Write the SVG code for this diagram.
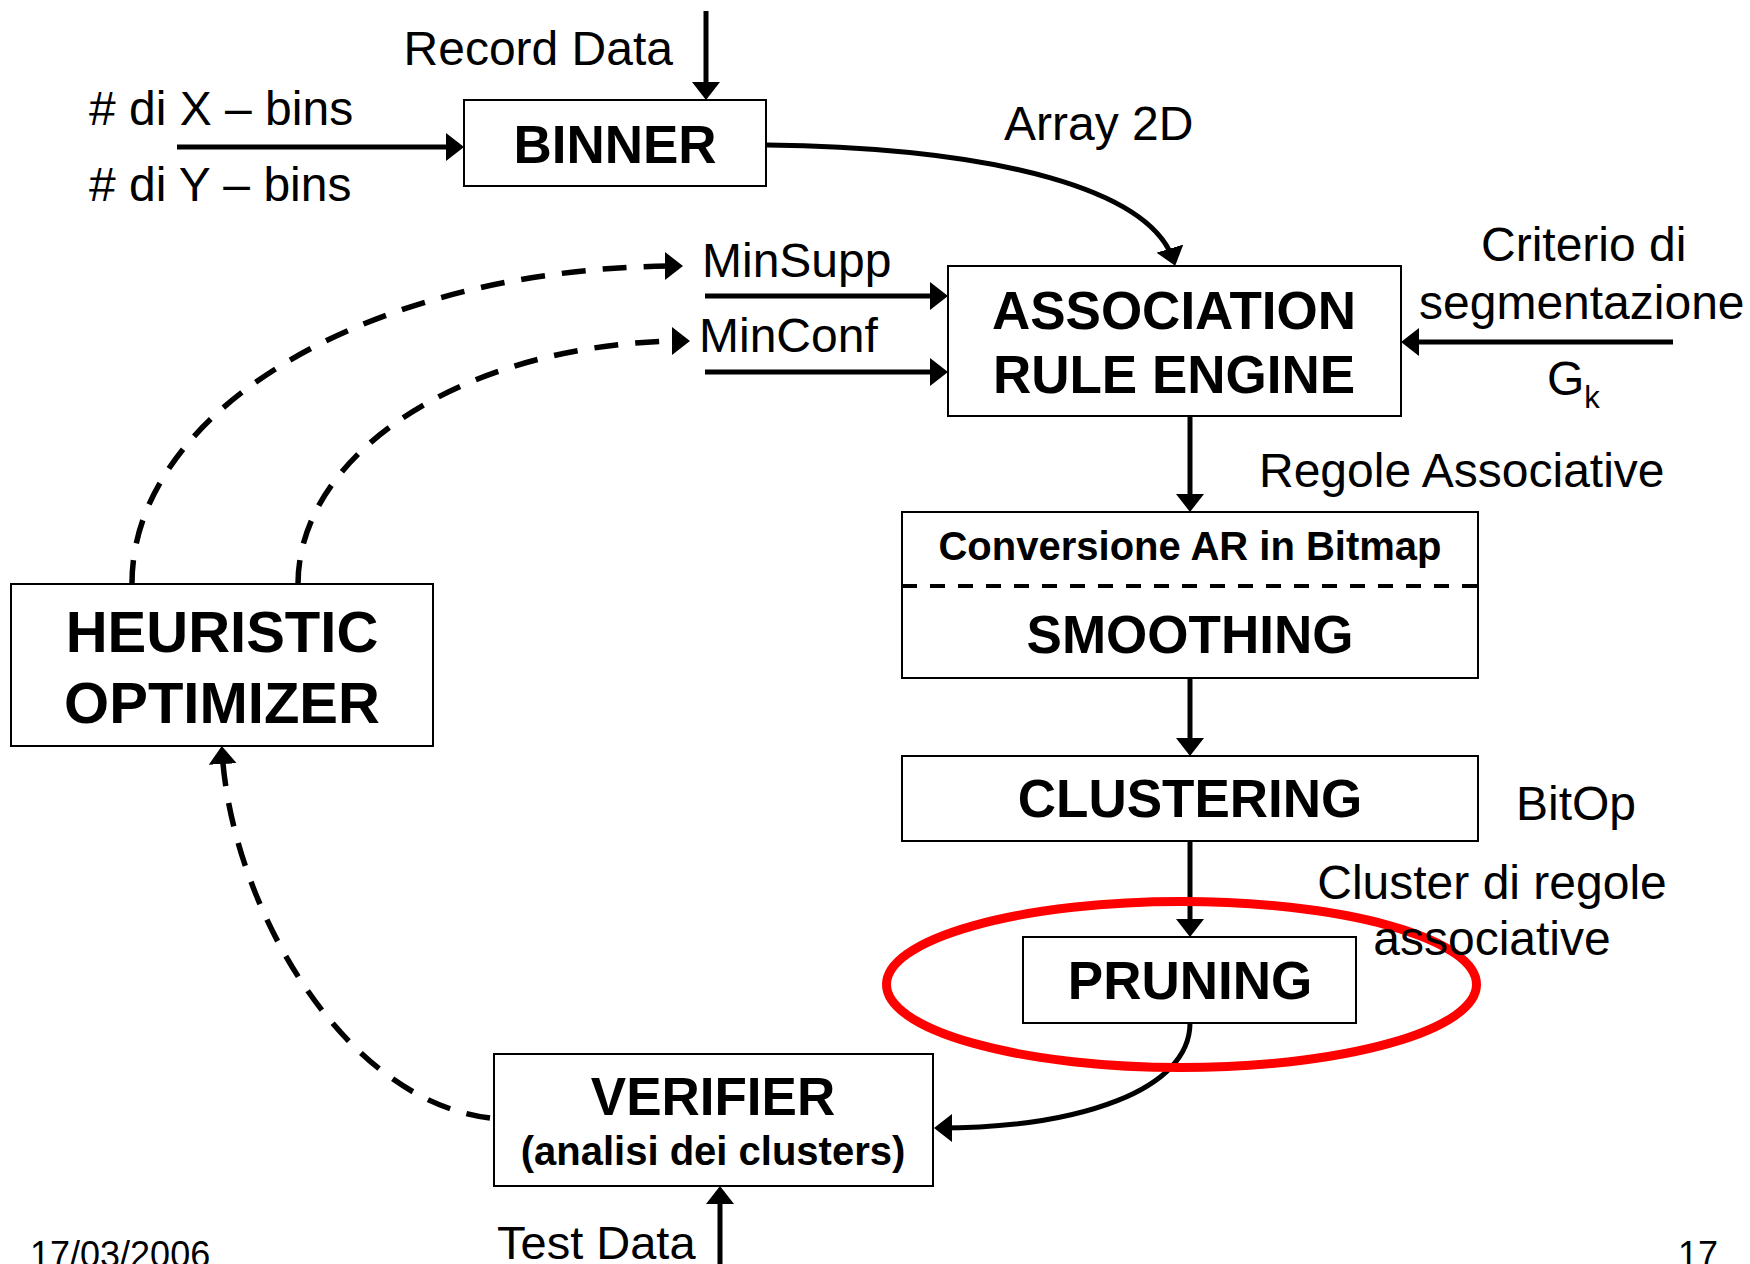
<svg xmlns="http://www.w3.org/2000/svg" width="1750" height="1264" viewBox="0 0 1750 1264">
  <defs>
    <style>
      .box { fill: #ffffff; stroke: #000000; stroke-width: 2; }
      .sep { stroke: #000000; stroke-width: 4; stroke-dasharray: 15 13; fill: none; }
      .wire { fill: none; stroke: #000000; stroke-width: 5; marker-end: url(#head); }
      .dash { fill: none; stroke: #000000; stroke-width: 5.5; stroke-dasharray: 24 17; marker-end: url(#head); }
      .lbl { font-family: "Liberation Sans", Arial, sans-serif; font-size: 48px; fill: #000000; }
      .title { font-family: "Liberation Sans", Arial, sans-serif; font-weight: bold; font-size: 53px; fill: #000000; text-anchor: middle; }
      .sub { font-family: "Liberation Sans", Arial, sans-serif; font-weight: bold; font-size: 40px; fill: #000000; text-anchor: middle; }
      .foot { font-family: "Liberation Sans", Arial, sans-serif; font-size: 36px; fill: #000000; }
    </style>
    <marker id="head" markerUnits="userSpaceOnUse" markerWidth="18" markerHeight="28" refX="14" refY="14" orient="auto">
      <path d="M0,0 L18,14 L0,28 Z" fill="#000000"/>
    </marker>
  </defs>

  <rect width="1750" height="1264" fill="#ffffff"/>

  <!-- processing blocks -->
  <g id="binner">
    <rect class="box" x="464" y="100" width="302" height="86"/>
    <text class="title" x="615" y="163">BINNER</text>
  </g>
  <g id="association-rule-engine">
    <rect class="box" x="948" y="266" width="453" height="150"/>
    <text class="title" x="1174" y="329">ASSOCIATION</text>
    <text class="title" x="1174" y="393">RULE ENGINE</text>
  </g>
  <g id="smoothing">
    <rect class="box" x="902" y="512" width="576" height="166"/>
    <line class="sep" x1="902" y1="586" x2="1478" y2="586"/>
    <text class="sub" x="1190" y="560">Conversione AR in Bitmap</text>
    <text class="title" x="1190" y="653">SMOOTHING</text>
  </g>
  <g id="clustering">
    <rect class="box" x="902" y="756" width="576" height="85"/>
    <text class="title" x="1190" y="817">CLUSTERING</text>
  </g>
  <g id="pruning">
    <rect class="box" x="1023" y="937" width="333" height="86"/>
    <text class="title" x="1190" y="999">PRUNING</text>
  </g>
  <g id="heuristic-optimizer">
    <rect class="box" x="11" y="584" width="422" height="162"/>
    <text class="title" x="222" y="652" style="font-size:58px">HEURISTIC</text>
    <text class="title" x="222" y="723" style="font-size:58px">OPTIMIZER</text>
  </g>
  <g id="verifier">
    <rect class="box" x="494" y="1054" width="439" height="132"/>
    <text class="title" x="713" y="1115">VERIFIER</text>
    <text class="sub" x="713" y="1165">(analisi dei clusters)</text>
  </g>

  <!-- connectors -->
  <g id="connectors">
    <path class="wire" d="M706,11 V96"/>
    <path class="wire" d="M177,147 H460"/>
    <path class="wire" d="M767,145 C1000,148 1152,190 1174,262"/>
    <path class="wire" d="M705,296 H944"/>
    <path class="wire" d="M705,372 H944"/>
    <path class="wire" d="M1673,342 H1405"/>
    <path class="wire" d="M1190,416 V508"/>
    <path class="wire" d="M1190,678 V752"/>
    <path class="wire" d="M1190,841 V933"/>
    <path class="wire" d="M1190,1023 C1190,1090 1080,1128 938,1128"/>
    <path class="wire" d="M720,1264 V1190"/>
    <path class="dash" d="M132,584 A547,317 0 0 1 679,266"/>
    <path class="dash" d="M298,584 A388,243 0 0 1 686,341"/>
    <path class="dash" d="M490,1118 C340,1100 230,900 222,750"/>
  </g>

  <!-- highlight around the pruning step -->
  <ellipse id="highlight" cx="1181.5" cy="984.5" rx="295" ry="83" fill="none" stroke="#ff0000" stroke-width="9"/>

  <!-- flow labels -->
  <g id="labels">
    <text class="lbl" x="673" y="65" text-anchor="end">Record Data</text>
    <text class="lbl" x="89" y="125"># di X – bins</text>
    <text class="lbl" x="89" y="201"># di Y – bins</text>
    <text class="lbl" x="1004" y="140">Array 2D</text>
    <text class="lbl" x="702" y="277">MinSupp</text>
    <text class="lbl" x="699" y="352">MinConf</text>
    <text class="lbl" x="1481" y="261">Criterio di</text>
    <text class="lbl" x="1419" y="319">segmentazione</text>
    <text class="lbl" x="1547" y="395">G<tspan font-size="31" dy="13">k</tspan></text>
    <text class="lbl" x="1259" y="487">Regole Associative</text>
    <text class="lbl" x="1516" y="820">BitOp</text>
    <text class="lbl" x="1492" y="899" text-anchor="middle">Cluster di regole</text>
    <text class="lbl" x="1492" y="955" text-anchor="middle">associative</text>
    <text class="lbl" x="497" y="1259" style="font-size:47px">Test Data</text>
  </g>

  <!-- slide footer -->
  <g id="footer">
    <text class="foot" x="30" y="1267">17/03/2006</text>
    <text class="foot" x="1678" y="1267">17</text>
  </g>
</svg>
